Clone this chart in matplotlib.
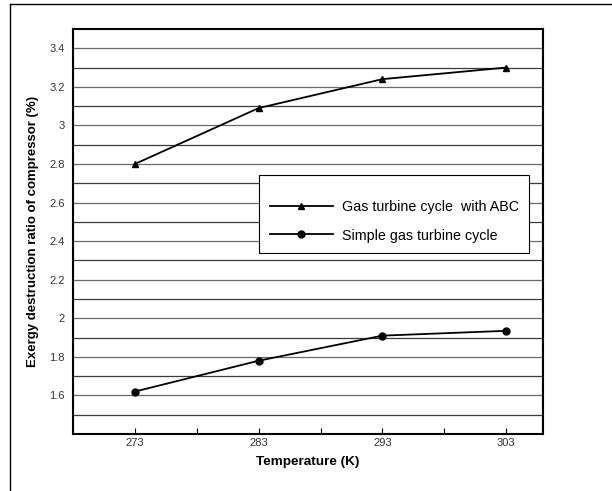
import matplotlib
matplotlib.use("Agg")
import matplotlib.pyplot as plt
from matplotlib.lines import Line2D
from matplotlib.patches import Rectangle
from matplotlib.ticker import FixedLocator
import numpy as np

plt.rcParams['font.family'] = ['Liberation Sans', 'DejaVu Sans']

temperature = [273, 283, 293, 303]
abc_values = [2.80, 3.09, 3.24, 3.30]
simple_values = [1.62, 1.78, 1.91, 1.935]
label_abc = "Gas turbine cycle  with ABC"
label_simple = "Simple gas turbine cycle"
x_ticks = [273, 283, 293, 303]
y_ticks = [1.6, 1.8, 2.0, 2.2, 2.4, 2.6, 2.8, 3.0, 3.2, 3.4]
y_ticklabels = ["1.6", "1.8", "2", "2.2", "2.4", "2.6", "2.8", "3", "3.2", "3.4"]

W, H = 612, 491
fig = plt.figure(figsize=(W / 100, H / 100), dpi=100)

def fx(px):
    return px / W

def fy(py):
    return 1 - py / H

# outer frame lines (top and left)
fig.add_artist(Line2D([fx(9.5), 1.0], [fy(4.3), fy(4.3)], color='black', lw=1.0))
fig.add_artist(Line2D([fx(9.5), fx(9.5)], [fy(4.3), 0.0], color='black', lw=1.0))

ax_l, ax_r, ax_t, ax_b = 73, 543.3, 29, 434
ax = fig.add_axes([fx(ax_l), fy(ax_b), fx(ax_r - ax_l), (ax_b - ax_t) / H])

ax.set_xlim(268, 306)
ax.set_ylim(1.4, 3.5)

# horizontal gridlines every 0.1
for i, g in enumerate(np.arange(1.5, 3.45, 0.1)):
    ax.axhline(g, color='#3a3a3a' if i % 2 == 0 else '#6a6a6a', lw=0.9, zorder=1)

ax.plot(temperature, abc_values, color='black', lw=1.3, marker='^', markersize=5,
        zorder=3, label=label_abc)
ax.plot(temperature, simple_values, color='black', lw=1.3, marker='o', markersize=5,
        zorder=3, label=label_simple)

ax.xaxis.set_major_locator(FixedLocator(x_ticks))
ax.xaxis.set_minor_locator(FixedLocator([278, 288, 298]))
ax.set_xticklabels([str(t) for t in x_ticks])
ax.set_yticks(y_ticks)
ax.set_yticklabels(y_ticklabels)
ax.tick_params(axis='x', which='both', direction='in', length=4.5, width=0.8,
               labelsize=8, labelcolor='#333333', pad=3)
ax.tick_params(axis='y', which='both', length=0, labelsize=8,
               labelcolor='#333333', pad=6)

for s in ax.spines.values():
    s.set_linewidth(1.5)
    s.set_color('black')

ax.set_xlabel("Temperature (K)", fontsize=9.7, fontweight='bold', labelpad=6)
ax.set_ylabel("Exergy destruction ratio of compressor (%)", fontsize=9.5,
              fontweight='bold', labelpad=7)

# legend box
x0 = (259.3 - ax_l) / (ax_r - ax_l)
x1 = (529.3 - ax_l) / (ax_r - ax_l)
y0 = (ax_b - 252.7) / (ax_b - ax_t)
y1 = (ax_b - 175) / (ax_b - ax_t)
ax.add_patch(Rectangle((x0, y0), x1 - x0, y1 - y0, transform=ax.transAxes,
                       facecolor='white', edgecolor='black', lw=0.8, zorder=4))

leg = ax.legend(loc='center left', bbox_to_anchor=(fx(270), fy(221.35)),
                bbox_transform=fig.transFigure, frameon=False, fontsize=10.3,
                handlelength=4.4, handletextpad=0.6, labelspacing=1.0,
                borderpad=0, borderaxespad=0)
leg.set_zorder(5)

fig.savefig("out.png", dpi=100)
